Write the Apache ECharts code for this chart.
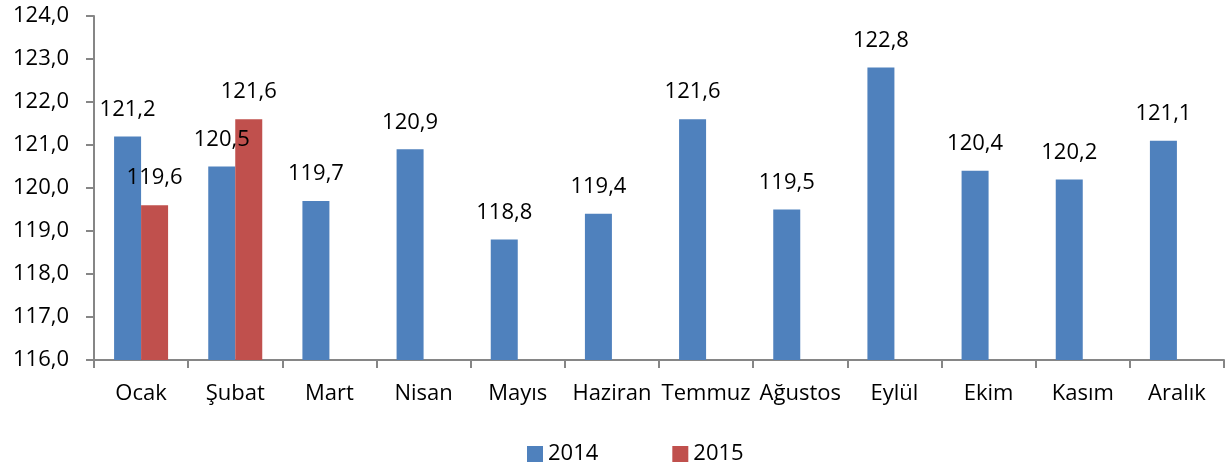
<!DOCTYPE html>
<html><head><meta charset="utf-8">
<script src="https://cdn.jsdelivr.net/npm/echarts@6/dist/echarts.min.js"></script>
<style>html,body{margin:0;padding:0;background:#fff}#c{width:1227px;height:468px}</style>
</head><body><div id="c"></div>
<script>
const categories = ['Ocak','Şubat','Mart','Nisan','Mayıs','Haziran','Temmuz','Ağustos','Eylül','Ekim','Kasım','Aralık'];
const values2014 = [121.2,120.5,119.7,120.9,118.8,119.4,121.6,119.5,122.8,120.4,120.2,121.1];
const values2015 = [119.6,121.6,null,null,null,null,null,null,null,null,null,null];
const seriesNames = ['2014','2015'];
const fmt = v => Number(v).toFixed(1).replace('.', ',');
const font = 'Open Sans';
const fs = 22;
const chart = echarts.init(document.getElementById('c'));
chart.setOption({
  animation:false,
  textStyle:{fontFamily:font},
  grid:{left:94,right:3,top:16,bottom:108,containLabel:false},
  legend:{top:438,left:522,itemWidth:16,itemHeight:16,itemGap:74,icon:'rect',
    textStyle:{fontSize:fs,color:'#000',fontFamily:font},data:seriesNames},
  xAxis:{type:'category',data:categories,
    axisLine:{lineStyle:{color:'#868686',width:2}},
    axisTick:{show:true,length:8,lineStyle:{color:'#868686',width:2}},
    axisLabel:{color:'#000',fontSize:fs,margin:23,interval:0,fontFamily:font}},
  yAxis:{type:'value',min:116,max:124,interval:1,
    splitLine:{show:false},
    axisLine:{show:true,lineStyle:{color:'#868686',width:2}},
    axisTick:{show:true,length:8,lineStyle:{color:'#868686',width:2}},
    axisLabel:{color:'#000',fontSize:fs,margin:25,formatter:fmt,fontFamily:font}},
  series:[
    {name:seriesNames[0],type:'bar',data:values2014,barWidth:27,barGap:'0%',
     itemStyle:{color:'#4F81BD'},
     label:{show:true,position:'top',distance:16,fontSize:fs,color:'#000',fontFamily:font,formatter:p=>fmt(p.value)}},
    {name:seriesNames[1],type:'bar',data:values2015,barWidth:27,barGap:'0%',
     itemStyle:{color:'#C0504D'},
     label:{show:true,position:'top',distance:16,fontSize:fs,color:'#000',fontFamily:font,formatter:p=>fmt(p.value)}}
  ]
});
</script></body></html>
